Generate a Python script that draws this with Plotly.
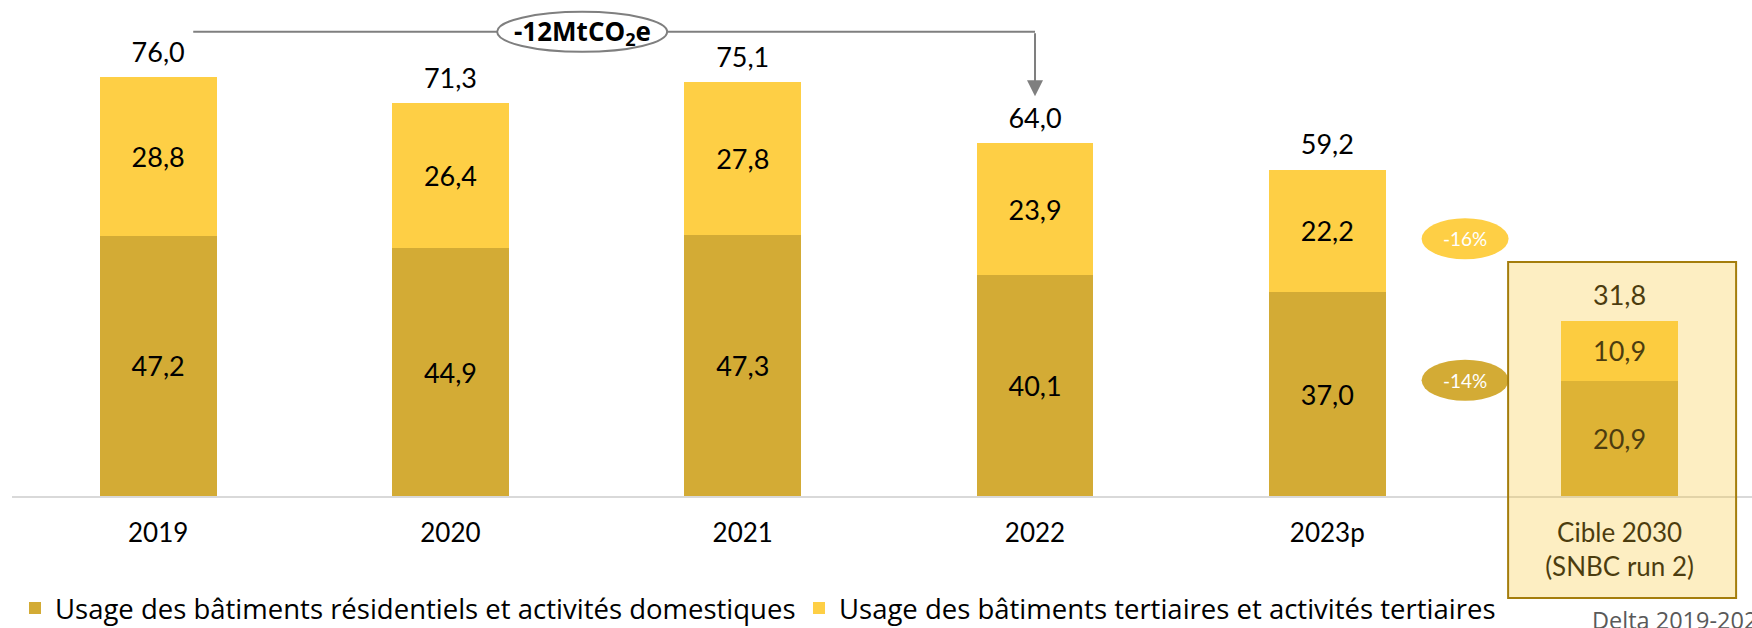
import plotly.graph_objects as go

# ---------------- data ----------------
categories = ["2019", "2020", "2021", "2022", "2023p", "Cible 2030<br>(SNBC run 2)"]
residentiel = [47.2, 44.9, 47.3, 40.1, 37.0, 20.9]
tertiaire = [28.8, 26.4, 27.8, 23.9, 22.2, 10.9]
totaux = [76.0, 71.3, 75.1, 64.0, 59.2, 31.8]
delta_labels = ["-16%", "-14%"]
bracket_label = "<b>-12MtCO<sub>2</sub>e</b>"
series_names = ["Usage des bâtiments résidentiels et activités domestiques",
                "Usage des bâtiments tertiaires et activités tertiaires"]
note_text = "Delta 2019-2023"

# ---------------- style ----------------
DARK = "#D3AB35"
LIGHT = "#FECF45"
GREY = "#7F7F7F"
FONT = "Lato"
X0, X1 = -0.5, 5.453
Y0, Y1 = 0, 89.97
LABEL_DY = 4.0
PLOT_H = 496


def fmt(v):
    return f"{v:.1f}".replace(".", ",")


def xp(xd):
    return (xd - X0) / (X1 - X0)


xpos = list(range(len(categories)))

fig = go.Figure()
fig.add_trace(go.Bar(
    x=xpos, y=residentiel, name=series_names[0], marker=dict(color=DARK, line=dict(width=0)),
    text=[fmt(v) for v in residentiel], textposition="inside", insidetextanchor="middle",
    textangle=0, constraintext="none",
    textfont=dict(family=FONT, size=27, color="#000000"), hoverinfo="skip"))
fig.add_trace(go.Bar(
    x=xpos, y=tertiaire, name=series_names[1], marker=dict(color=LIGHT, line=dict(width=0)),
    text=[fmt(v) for v in tertiaire], textposition="inside", insidetextanchor="middle",
    textangle=0, constraintext="none",
    textfont=dict(family=FONT, size=27, color="#000000"), hoverinfo="skip"))
fig.add_trace(go.Scatter(
    x=xpos, y=[t + LABEL_DY for t in totaux], mode="text",
    text=[fmt(v) for v in totaux], textposition="middle center",
    textfont=dict(family=FONT, size=27, color="#000000"),
    showlegend=False, hoverinfo="skip"))

BRACKET_Y = 84.2
shapes = [
    # bracket line
    dict(type="line", xref="x", yref="y", x0=0.12, x1=3, y0=BRACKET_Y, y1=BRACKET_Y,
         line=dict(color=GREY, width=2), layer="above"),
    dict(type="circle", xref="x", yref="y", x0=1.1598, x1=1.7414, y0=BRACKET_Y - 3.63,
         y1=BRACKET_Y + 3.63, fillcolor="white", line=dict(color=GREY, width=2), layer="above"),
    # delta pills
    dict(type="circle", xref="x", yref="y", x0=4.3226, x1=4.6202, y0=42.93, y1=50.37,
         fillcolor=LIGHT, line=dict(width=0), layer="above"),
    dict(type="circle", xref="x", yref="y", x0=4.3226, x1=4.6202, y0=17.27, y1=24.71,
         fillcolor=DARK, line=dict(width=0), layer="above"),
    # target highlight box
    dict(type="rect", xref="paper", yref="paper", x0=xp(4.6186), x1=xp(5.3986),
         y0=(PLOT_H - 598) / PLOT_H, y1=(PLOT_H - 262) / PLOT_H,
         fillcolor="rgba(247,200,53,0.30)",
         line=dict(color="#A47D0C", width=2), layer="above"),
]

annotations = [
    dict(x=1.4506, y=BRACKET_Y, xref="x", yref="y", text=bracket_label, showarrow=False,
         font=dict(family="Open Sans", size=26, color="#000000")),
    dict(x=3, y=72.5, xref="x", yref="y", ax=3, ay=BRACKET_Y, axref="x", ayref="y",
         text="", showarrow=True, arrowhead=2, arrowsize=1.6, arrowwidth=2,
         arrowcolor=GREY, standoff=0, startstandoff=0),
    dict(x=4.4714, y=46.65, xref="x", yref="y", text=delta_labels[0], showarrow=False,
         font=dict(family=FONT, size=19, color="white")),
    dict(x=4.4714, y=20.99, xref="x", yref="y", text=delta_labels[1], showarrow=False,
         font=dict(family=FONT, size=19, color="white")),
    dict(x=(1590 - 12) / 1740, y=(PLOT_H - 620) / PLOT_H, xref="paper", yref="paper",
         text=note_text, showarrow=False, xanchor="left", yanchor="middle",
         font=dict(family="Open Sans", size=23.5, color="#595959")),
]

fig.update_layout(
    width=1752, height=628,
    margin=dict(l=12, r=0, t=0, b=132),
    paper_bgcolor="white", plot_bgcolor="white",
    barmode="stack", bargap=0.6,
    font=dict(family=FONT, color="#000000"),
    xaxis=dict(range=[X0, X1], tickmode="array", tickvals=xpos, ticktext=categories,
               showgrid=False, zeroline=False, showline=True, linecolor="#D9D9D9",
               linewidth=2, ticks="", ticklabelstandoff=13,
               tickfont=dict(family=FONT, size=26, color="#000000")),
    yaxis=dict(range=[Y0, Y1], visible=False, showgrid=False, zeroline=False),
    showlegend=True,
    legend=dict(orientation="h", xref="container", yref="container", x=15 / 1752,
                y=(628 - 608) / 628,
                xanchor="left", yanchor="middle", traceorder="normal",
                entrywidth=739, entrywidthmode="pixels",
                font=dict(family="Open Sans", size=27.5, color="#000000"),
                bgcolor="rgba(0,0,0,0)"),
    shapes=shapes, annotations=annotations,
)

fig.write_html("out.html", config={"displayModeBar": False},
               post_script="document.body.style.margin='0';document.body.style.overflow='hidden';")
